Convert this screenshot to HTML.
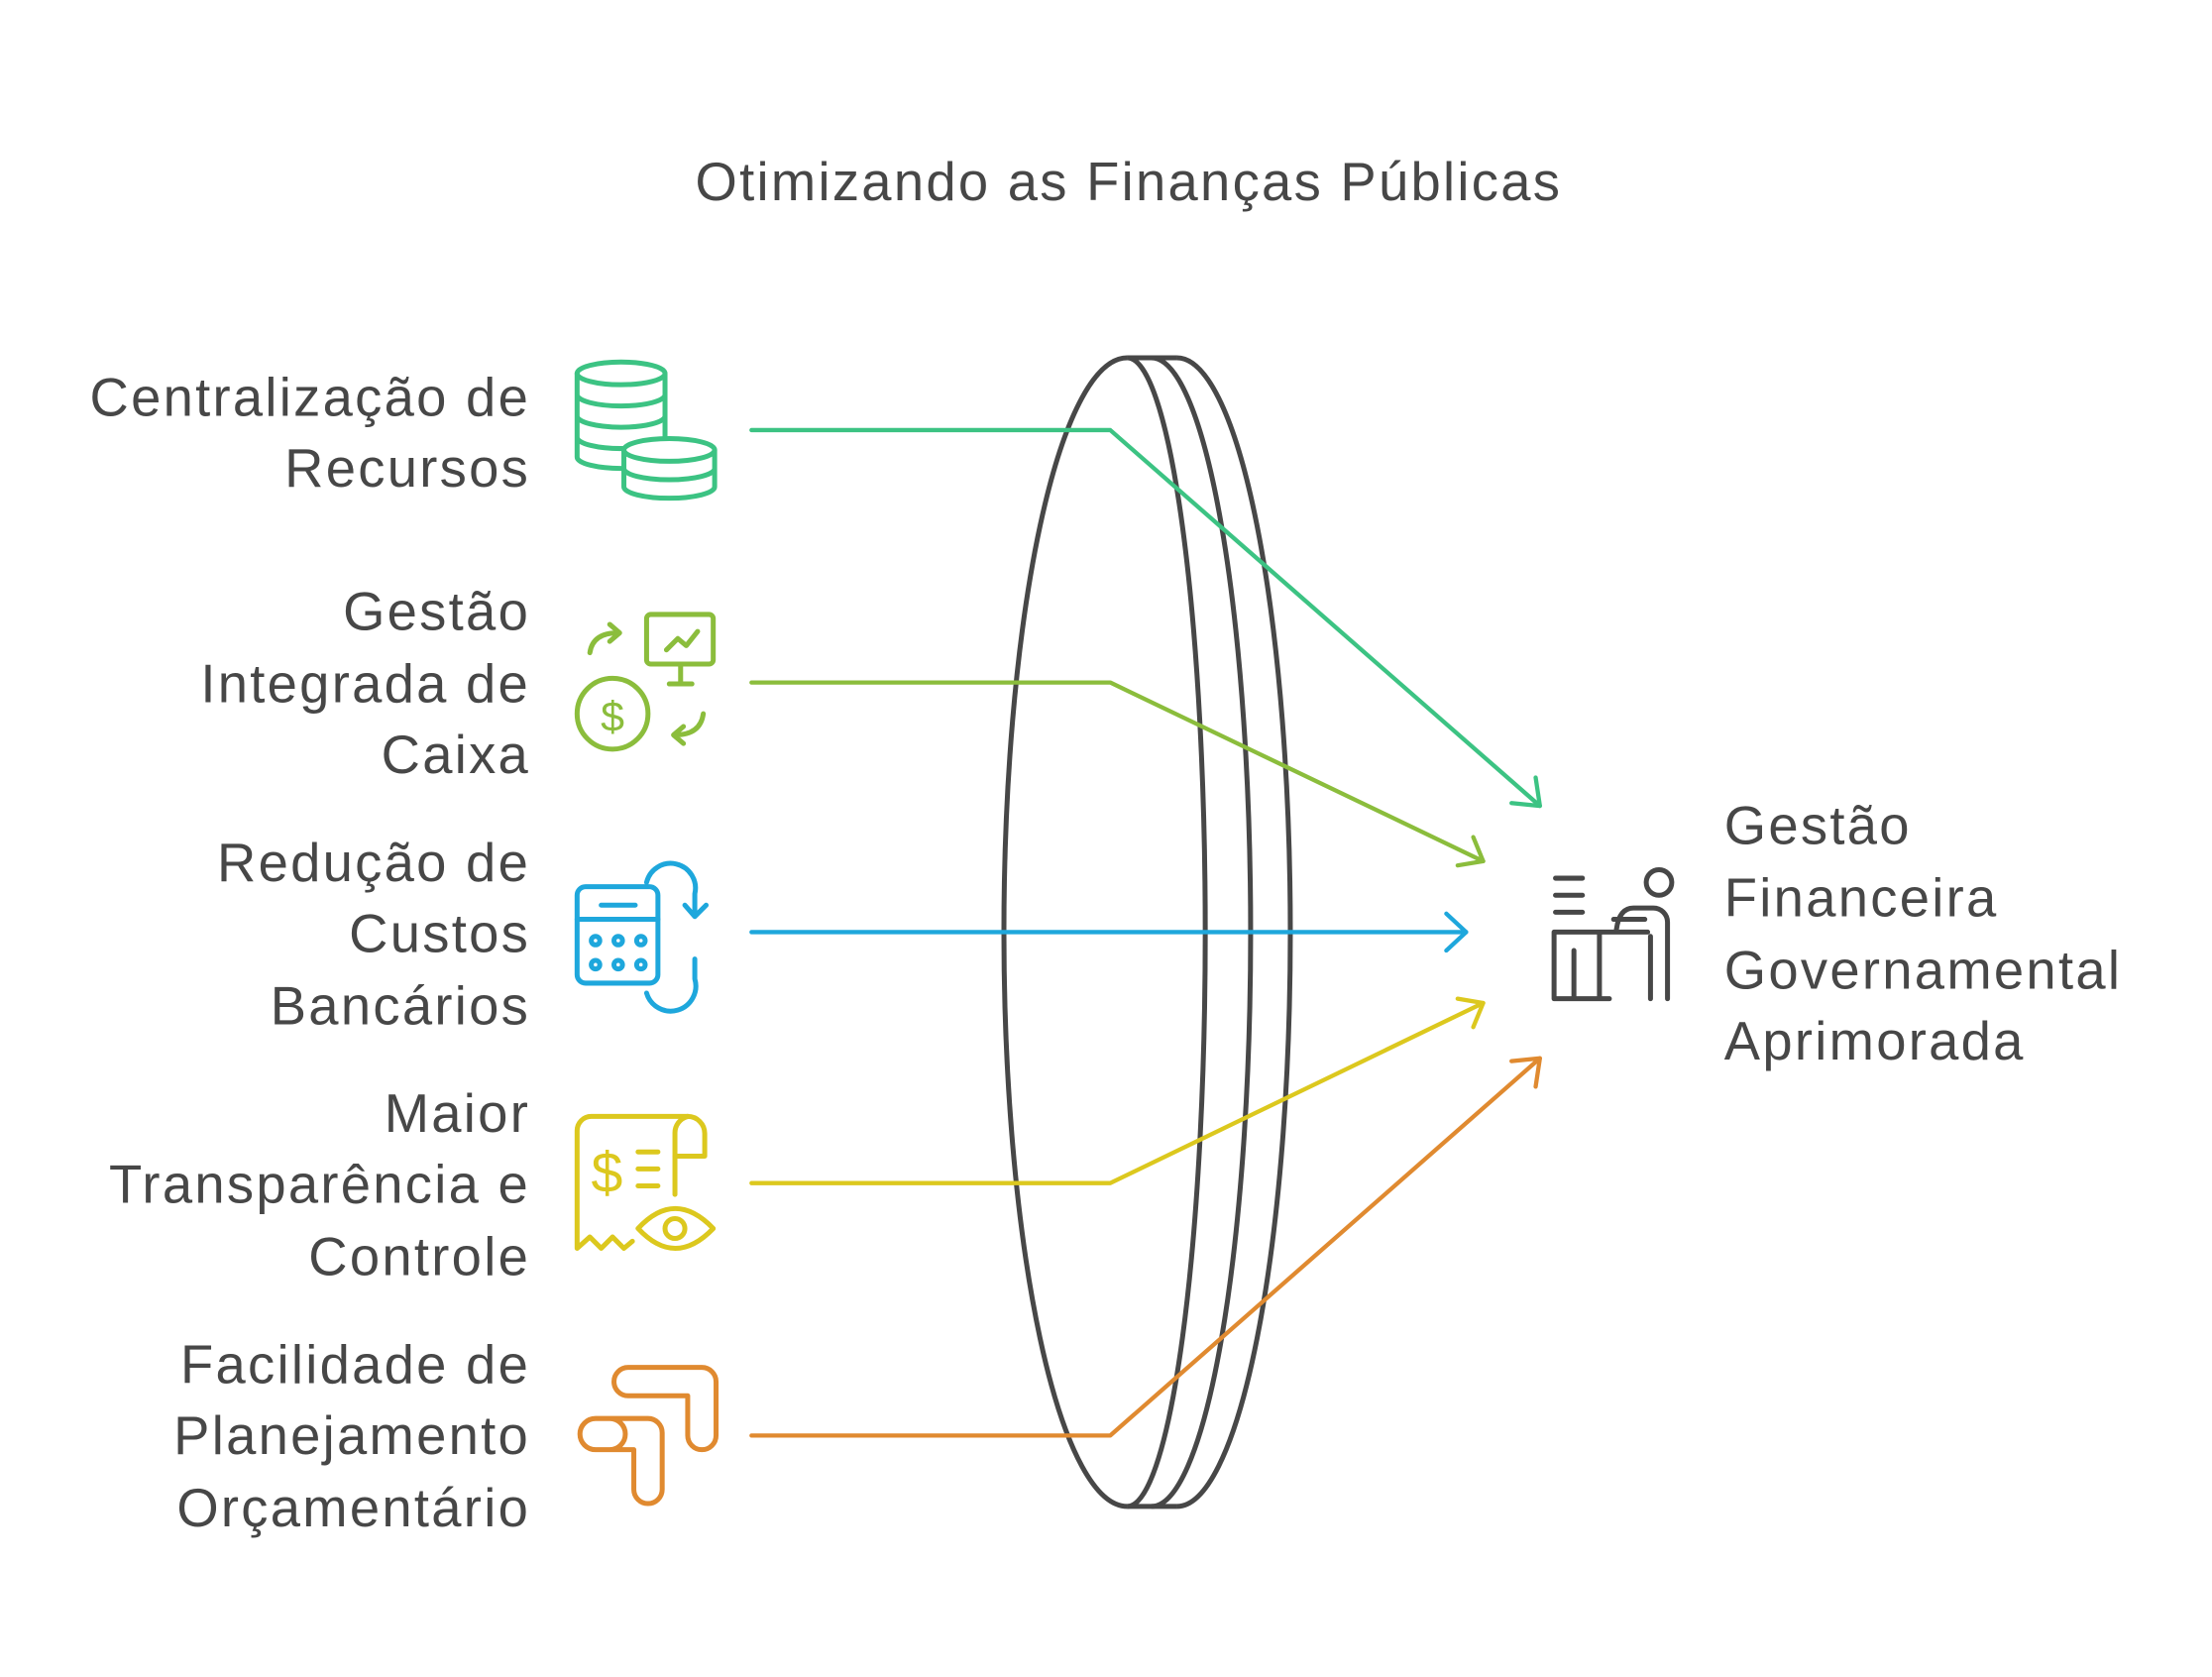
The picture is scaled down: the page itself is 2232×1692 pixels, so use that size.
<!DOCTYPE html>
<html><head><meta charset="utf-8"><style>
html,body{margin:0;padding:0;background:#fff;}
svg{display:block;}
text{font-family:"Liberation Sans",sans-serif;fill:#474747;letter-spacing:1.6px;}
</style></head><body>
<svg width="2232" height="1692" viewBox="0 0 1560 1182" xmlns="http://www.w3.org/2000/svg">
<text x="796" y="141" font-size="38" text-anchor="middle">Otimizando as Finanças Públicas</text>
<g font-size="38" text-anchor="end">
<text x="374" y="293">Centralização de</text><text x="374" y="343">Recursos</text>
<text x="374" y="444">Gestão</text><text x="374" y="495">Integrada de</text><text x="374" y="545">Caixa</text>
<text x="374" y="621">Redução de</text><text x="374" y="671">Custos</text><text x="374" y="722">Bancários</text>
<text x="374" y="798">Maior</text><text x="374" y="848">Transparência e</text><text x="374" y="899">Controle</text>
<text x="374" y="975">Facilidade de</text><text x="374" y="1025">Planejamento</text><text x="374" y="1076">Orçamentário</text>
</g>
<g font-size="38">
<text x="1216" y="595">Gestão</text><text x="1216" y="646">Financeira</text><text x="1216" y="697">Governamental</text><text x="1216" y="747">Aprimorada</text>
</g>
<!-- lens -->
<g fill="none" stroke="#474747" stroke-width="3.5">
<path d="M795,252 A87,405 0 0 0 795,1062"/>
<path d="M795,252 A55,405 0 0 1 795,1062"/>
<path d="M812,252 A70,405 0 0 1 812,1062"/>
<path d="M830,252 A80,405 0 0 1 830,1062"/>
<path d="M795,252 H830 M795,1062 H830"/>
</g>
<!-- arrows -->
<g fill="none" stroke-width="3" stroke-linecap="round" stroke-linejoin="round">
<g stroke="#3cc383"><path d="M530,303 H783 L1086,568"/><path d="M1066,566 L1086,568 L1083,548"/></g>
<g stroke="#8bbd3c"><path d="M530,481 H783 L1046,607"/><path d="M1028,610 L1046,607 L1039,590"/></g>
<g stroke="#1ea7dc"><path d="M530,657 H1034"/><path d="M1020,644 L1034,657 L1020,670"/></g>
<g stroke="#dcc81e"><path d="M530,834 H783 L1046,707"/><path d="M1039,724 L1046,707 L1028,704"/></g>
<g stroke="#e08a30"><path d="M530,1012 H783 L1086,746"/><path d="M1083,766 L1086,746 L1066,748"/></g>
</g>
<!-- icons -->
<g fill="none" stroke-width="3.5" stroke-linecap="round" stroke-linejoin="round">
<g stroke="#3cc383">
<ellipse cx="438" cy="263" rx="31" ry="8"/>
<path d="M407,263 V322 M469,263 V310 M407,278 A31,8 0 0 0 469,278 M407,293 A31,8 0 0 0 469,293 M407,308 A31,8 0 0 0 440,316 M407,322 A31,8 0 0 0 440,330"/>
<ellipse cx="472" cy="317" rx="32" ry="8" fill="#fff"/>
<path d="M440,317 V343 A32,8 0 0 0 504,343 V317 M440,330 A32,8 0 0 0 504,330"/>
</g>
<g stroke="#8bbd3c">
<rect x="456" y="433" width="47" height="35" rx="3"/>
<path d="M470,458 L478,450 L484,455 L492,445 M480,468 V482 M472,482 H488"/>
<circle cx="432" cy="503" r="25"/>
<text x="432" y="515" font-size="30" text-anchor="middle" stroke="none" style="fill:#8bbd3c;letter-spacing:0">$</text>
<path d="M416,460 Q418,446 436,446 M430,440 L437,446 L430,452"/>
<path d="M496,503 Q494,518 476,518 M482,512 L475,518 L482,524"/>
</g>
<g stroke="#1ea7dc">
<rect x="407" y="625" width="57" height="68" rx="6"/>
<path d="M407,648 H464 M424,638 H448"/>
<circle cx="420" cy="663" r="3"/><circle cx="436" cy="663" r="3"/><circle cx="452" cy="663" r="3"/>
<circle cx="420" cy="680" r="3"/><circle cx="436" cy="680" r="3"/><circle cx="452" cy="680" r="3"/>
<path d="M456,622 A16,16 0 0 1 490,630 L490,645 M483,638 L490,646 L498,638"/>
<path d="M456,700 A16,16 0 0 0 490,690 L490,676"/>
</g>
<g stroke="#dcc81e">
<path d="M485,787 H417 A10,10 0 0 0 407,797 V880 L416,872 L424,880 L432,872 L440,880 L446,875"/>
<path d="M485,787 A12,12 0 0 1 497,799 V815 H476 V799 A12,12 0 0 1 485,787"/>
<path d="M476,815 V842"/>
<text x="428" y="840" font-size="40" text-anchor="middle" stroke="none" style="fill:#dcc81e;letter-spacing:0">$</text>
<path d="M450,812 H464 M450,824 H464 M450,836 H464"/>
<path d="M450,866 Q476,838 503,866 Q476,894 450,866 Z"/>
<circle cx="476" cy="866" r="7"/>
</g>
<g stroke="#e08a30">
<path d="M443,964 H495 A10,10 0 0 1 505,974 V1012 A10,10 0 0 1 485,1012 V984 H443 A10,10 0 0 1 443,964"/>
<path d="M420,1000 H457 A10,10 0 0 1 467,1010 V1050 A10,10 0 0 1 447,1050 V1022 H420 A11,11 0 0 1 420,1000 M430,1000 A11,11 0 0 1 430,1022"/>
</g>
<g stroke="#474747">
<path d="M1097,619 H1116 M1097,631 H1116 M1097,643 H1116"/>
<path d="M1096,657 H1162 M1096,657 V704 M1128,657 V704 M1096,704 H1135 M1110,670 V704"/>
<circle cx="1170" cy="622" r="9"/>
<path d="M1140,655 Q1142,640 1152,640 L1166,640 A10,10 0 0 1 1176,650 V704 M1164,660 V704 M1138,648 L1160,648"/>
</g>
</g>
</svg>
</body></html>
